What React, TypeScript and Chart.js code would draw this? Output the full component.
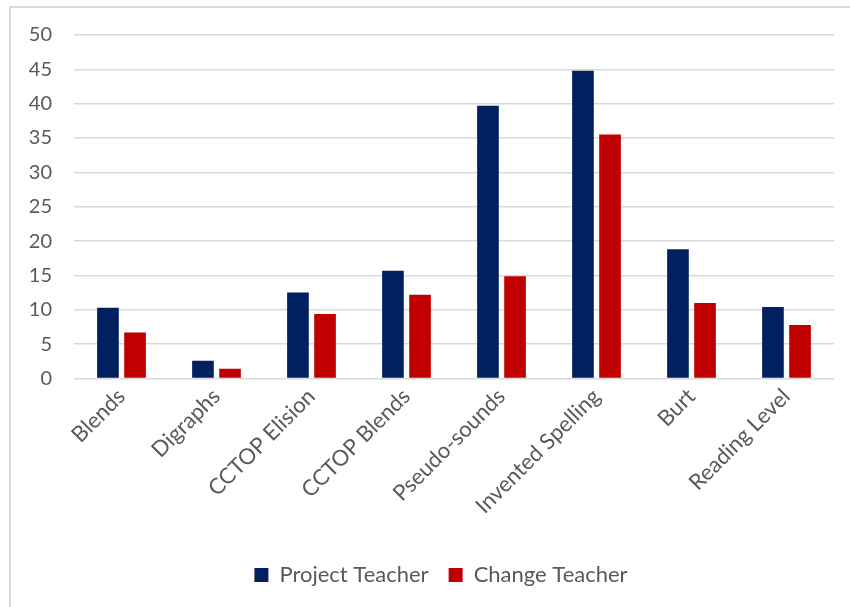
import React, { useEffect, useRef } from "react";
import { Chart, registerables } from "chart.js";

Chart.register(...registerables);

const categories = [
  "Blends",
  "Digraphs",
  "CCTOP Elision",
  "CCTOP Blends",
  "Pseudo-sounds",
  "Invented Spelling",
  "Burt",
  "Reading Level",
];
const projectTeacher = [10.3, 2.6, 12.5, 15.7, 39.7, 44.8, 18.8, 10.4];
const changeTeacher = [6.7, 1.4, 9.4, 12.2, 14.9, 35.5, 11.0, 7.8];
const seriesNames = ["Project Teacher", "Change Teacher"];
const yMin = 0;
const yMax = 50;
const yStep = 5;

const FONT = "Lato, 'Liberation Sans', sans-serif";
const TEXT = "#595959";

const legendShift = {
  id: "legendShift",
  afterLayout(chart: any) {
    const l = chart.legend;
    if (l) {
      l.left += 11;
      l.right += 11;
    }
  },
};

export default function App() {
  const ref = useRef<HTMLCanvasElement | null>(null);

  useEffect(() => {
    if (!ref.current) return;
    const chart = new Chart(ref.current, {
      type: "bar",
      data: {
        labels: categories,
        datasets: [
          {
            label: seriesNames[0],
            data: projectTeacher,
            backgroundColor: "#002060",
            categoryPercentage: 0.57,
            barPercentage: 0.8,
          },
          {
            label: seriesNames[1],
            data: changeTeacher,
            backgroundColor: "#C00000",
            categoryPercentage: 0.57,
            barPercentage: 0.8,
          },
        ],
      },
      plugins: [legendShift],
      options: {
        responsive: false,
        animation: false,
        layout: { padding: { left: 26, right: 16, top: 35, bottom: 11 } },
        scales: {
          y: {
            min: yMin,
            max: yMax,
            ticks: {
              stepSize: yStep,
              color: TEXT,
              padding: 22,
              font: { family: FONT, size: 20 },
            },
            grid: { color: "#d9d9d9", lineWidth: 1.5, drawTicks: false },
            border: { display: false },
            afterFit: (s: any) => {
              s.width = 48;
            },
          },
          x: {
            ticks: {
              color: TEXT,
              minRotation: 45,
              maxRotation: 45,
              padding: 5,
              font: { family: FONT, size: 22 },
            },
            grid: { display: false, drawTicks: false },
            border: { display: false },
            afterFit: (s: any) => {
              s.height += 20;
            },
          },
        },
        plugins: {
          legend: {
            position: "bottom",
            labels: {
              color: TEXT,
              font: { family: FONT, size: 22 },
              boxWidth: 14,
              boxHeight: 14,
              padding: 20,
            },
          },
          tooltip: { enabled: false },
        },
      },
    });
    return () => chart.destroy();
  }, []);

  return (
    <div
      style={{
        position: "fixed",
        left: 0,
        top: 0,
        width: 850,
        height: 607,
        overflow: "hidden",
        background: "#fff",
      }}
    >
      <div
        style={{
          position: "absolute",
          left: 9,
          top: 6,
          width: 900,
          height: 700,
          border: "2px solid #d9d9d9",
          boxSizing: "border-box",
        }}
      />
      <canvas
        ref={ref}
        width={850}
        height={607}
        style={{ position: "absolute", left: 0, top: 0 }}
      />
    </div>
  );
}
